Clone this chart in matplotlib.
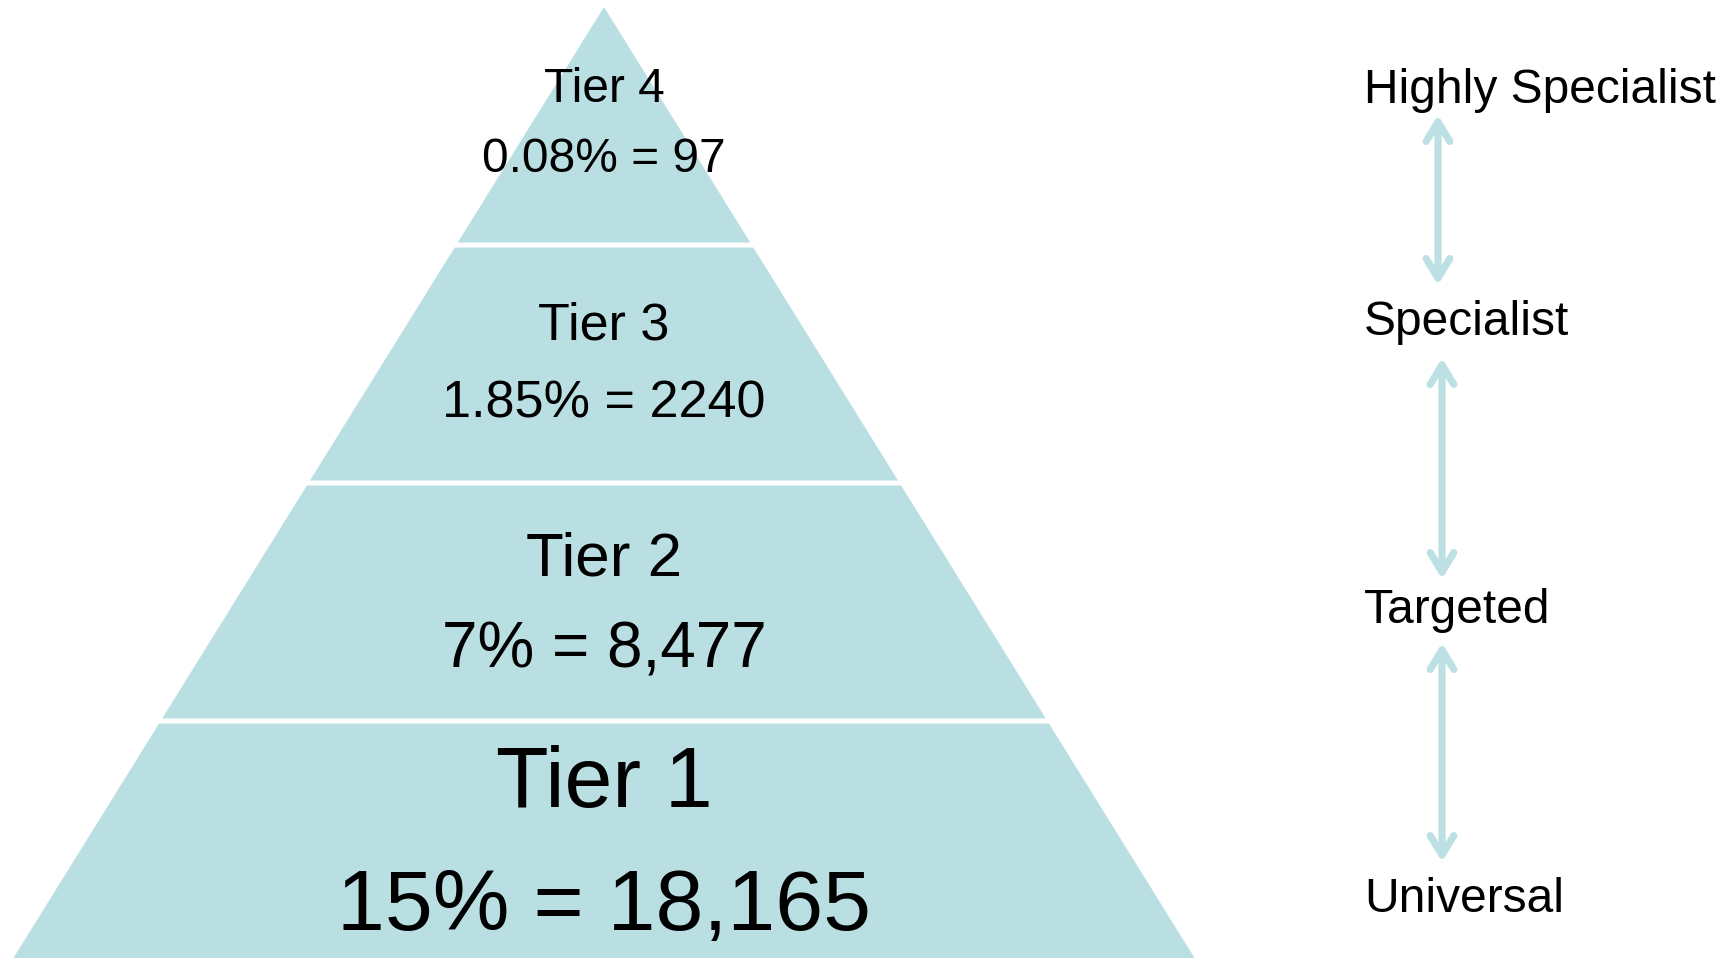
import matplotlib
matplotlib.use("Agg")
import matplotlib.pyplot as plt
from matplotlib.patches import Polygon, FancyArrowPatch, ArrowStyle

plt.rcParams['font.family'] = ['Liberation Sans', 'DejaVu Sans']

# Data (bottom tier first)
tiers = ["Tier 1", "Tier 2", "Tier 3", "Tier 4"]
shares = ["15%", "7%", "1.85%", "0.08%"]
counts = ["18,165", "8,477", "2240", "97"]
levels = ["Universal", "Targeted", "Specialist", "Highly Specialist"]

# Layout (figure pixels, y grows downward)
W, H = 1728, 958
apex_x, apex_y = 604, 7
band_h = 238
gap = 5
slope = 0.621                       # half-width per pixel of height
label_base = [807, 575, 340, 102]   # baselines of "Tier n"
value_base = [930, 668, 417, 172]   # baselines of "x% = n"
label_size = [62, 44.6, 37.5, 34.5]
value_size = [62, 46, 37.5, 34.5]
level_base = [912, 623, 335, 103]
level_x = 1364
arrow_x = [1442, 1442, 1438]
arrow_span = [(645, 860), (360, 577), (117, 283)]

fill = "#badfe3"
arrow_col = "#bde0e4"

fig = plt.figure(figsize=(W / 100, H / 100), dpi=100)
ax = fig.add_axes([0, 0, 1, 1])
ax.set_xlim(0, W)
ax.set_ylim(H, 0)
ax.axis("off")

n = len(tiers)
for i in range(n):
    k = n - 1 - i  # position from the top
    top = apex_y + k * band_h + (gap / 2 if k > 0 else 0)
    bot = apex_y + (k + 1) * band_h - (gap / 2 if i > 0 else -10)
    wt = (top - apex_y) * slope
    wb = (bot - apex_y) * slope
    pts = [(apex_x - wt, top), (apex_x + wt, top),
           (apex_x + wb, bot), (apex_x - wb, bot)]
    ax.add_patch(Polygon(pts, closed=True, facecolor=fill, edgecolor="none"))

    ax.text(apex_x, label_base[i], tiers[i], ha="center", va="baseline",
            fontsize=label_size[i], color="black")
    ax.text(apex_x, value_base[i], f"{shares[i]} = {counts[i]}", ha="center",
            va="baseline", fontsize=value_size[i], color="black")

# Right-hand scale
for i, lev in enumerate(levels):
    ax.text(level_x, level_base[i], lev, ha="left", va="baseline",
            fontsize=34.5, color="black")

style = ArrowStyle("<->", head_length=14, head_width=8.5)
for x, (y1, y2) in zip(arrow_x, arrow_span):
    arr = FancyArrowPatch((x, y2 + 2), (x, y1 - 2), arrowstyle=style,
                          mutation_scale=1, color=arrow_col, linewidth=5.2,
                          shrinkA=0, shrinkB=0, capstyle="round",
                          joinstyle="round")
    ax.add_patch(arr)

fig.savefig("out.png", dpi=100, facecolor="white")
